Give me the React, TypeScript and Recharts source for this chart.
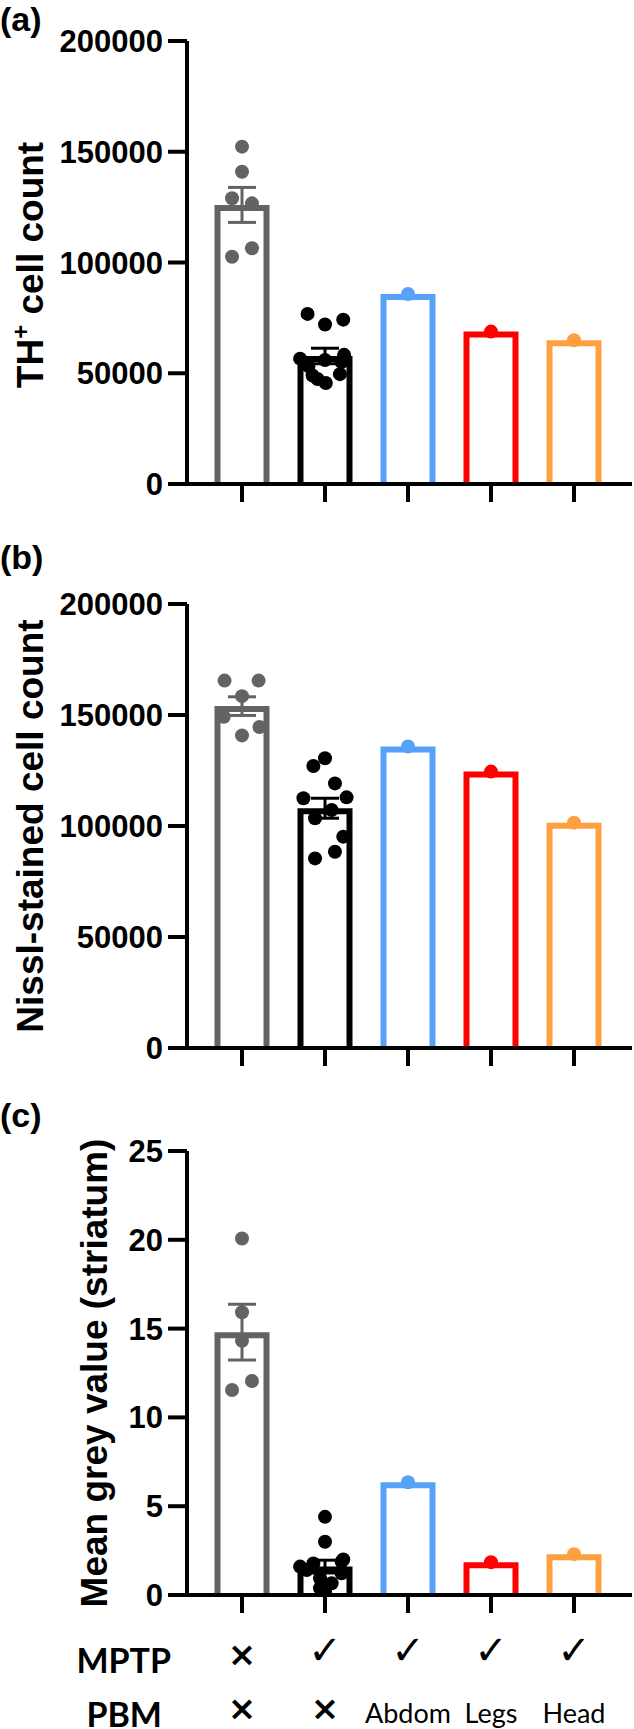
import React from "react";
import { ComposedChart, Bar, Scatter, ErrorBar, XAxis, YAxis } from "recharts";

const groups = ["Control", "MPTP", "MPTP+Abdom", "MPTP+Legs", "MPTP+Head"];
const mptpRow = ["×", "✓", "✓", "✓", "✓"];
const pbmRow = ["×", "×", "Abdom", "Legs", "Head"];
const groupColors = ["#636363", "#000000", "#57A2F9", "#FF0000", "#FFA040"];

// (a) TH+ cell count
const thMean = [126000, 57800, 85800, 68800, 64900];
const thSem = [7900, 3500, 0, 0, 0];
const thDots = [
  [152300, 141000, 129000, 126700, 106400, 102600],
  [76800, 72000, 74200, 58300, 56600, 56000, 55000, 53200, 49600, 49000, 47400, 45600],
  [85800],
  [68800],
  [64900],
];
const thDotX = [
  [0, 0, -0.12, 0.12, 0.12, -0.12],
  [-0.21, 0, 0.22, 0.23, -0.3, 0, 0.2, -0.2, 0.18, -0.15, -0.09, 0.01],
  [0],
  [0],
  [0],
];

// (b) Nissl-stained cell count
const nisslMean = [154000, 108000, 135800, 124500, 101500];
const nisslSem = [4200, 4500, 0, 0, 0];
const nisslDots = [
  [165500, 165500, 158500, 149200, 144600, 140800],
  [130500, 127000, 119200, 112500, 112900, 107200, 103500, 95200, 88400, 85400],
  [135800],
  [124500],
  [101500],
];
const nisslDotX = [
  [-0.21, 0.2, 0, -0.22, 0.21, 0],
  [0, -0.14, 0.12, -0.26, 0.26, 0.08, -0.12, 0.22, 0.12, -0.12],
  [0],
  [0],
  [0],
];

// (c) Mean grey value (striatum)
const greyMean = [14.8, 1.6, 6.35, 1.85, 2.3];
const greySem = [1.57, 0.36, 0, 0, 0];
const greyDots = [
  [20.07, 15.92, 14.32, 12.05, 11.54],
  [4.4, 3.0, 2.0, 1.88, 1.78, 1.6, 1.41, 1.22, 0.94, 0.66, 0.38, 0.2],
  [6.35],
  [1.85],
  [2.3],
];
const greyDotX = [
  [0, 0, 0, 0.12, -0.12],
  [0, 0, 0.22, 0.2, -0.14, -0.3, -0.22, 0.2, -0.06, 0.08, -0.06, 0],
  [0],
  [0],
  [0],
];

const countTicks = [0, 50000, 100000, 150000, 200000];
const greyTicks = [0, 5, 10, 15, 20, 25];

const ARIAL = "'Liberation Sans', Arial, sans-serif";
const axisStyle = { stroke: "#000", strokeWidth: 4 };
const BAR_STROKE = 6;

const OpenBar = (props: any) => {
  const { x, y, width, height, payload } = props;
  const c = groupColors[groups.indexOf(payload.group)];
  const h = BAR_STROKE / 2;
  const l = x + h;
  const r = x + width - h;
  const t = y + h;
  const b = y + height;
  return <path d={`M${l},${b}V${t}H${r}V${b}`} fill="none" stroke={c} strokeWidth={BAR_STROKE} />;
};

const EmptyTick = () => <g />;

const markText = (s: string, x: number, y: number, crossY: number) =>
  s === "✓" ? (
    <text x={x} y={y} textAnchor="middle" fontFamily="'DejaVu Sans'" fontSize={40} fill="#000">
      {s}
    </text>
  ) : s === "×" ? (
    <text x={x} y={crossY} textAnchor="middle" fontFamily="'DejaVu Sans'" fontWeight={700} fontSize={34} fill="#000">
      {s}
    </text>
  ) : (
    <text x={x} y={y} textAnchor="middle" fontFamily="Lato" fontSize={27} fill="#000">
      {s}
    </text>
  );

const RowTick = (props: any) => {
  const { x, y, payload } = props;
  const i = groups.indexOf(payload.value);
  return (
    <g>
      {markText(mptpRow[i], x, y + 49, y + 51)}
      {markText(pbmRow[i], x, y + 108, y + 105)}
    </g>
  );
};

type PanelProps = {
  top: number;
  plotTop: number;
  plotBottom: number;
  axisHeight: number;
  means: number[];
  sems: number[];
  dots: number[][];
  dotX: number[][];
  yMax: number;
  yTicks: number[];
  rows?: boolean;
};

function Panel({ top, plotTop, plotBottom, axisHeight, means, sems, dots, dotX, yMax, yTicks, rows }: PanelProps) {
  const data = groups.map((g, i) => ({ group: g, mean: means[i] }));
  const height = plotBottom - top + axisHeight;
  return (
    <div style={{ position: "absolute", left: 0, top }}>
      <ComposedChart
        width={634}
        height={height}
        data={data}
        margin={{ top: plotTop - top, right: 2, bottom: 0, left: 0 }}
      >
        <XAxis
          xAxisId="cat"
          dataKey="group"
          type="category"
          interval={0}
          padding={{ left: 13.5, right: 16.5 }}
          height={axisHeight}
          tickSize={18}
          tickMargin={2}
          axisLine={axisStyle}
          tickLine={axisStyle}
          tick={rows ? <RowTick /> : <EmptyTick />}
        />
        <XAxis
          xAxisId="num"
          dataKey="x"
          type="number"
          domain={[-0.5, 4.5]}
          allowDataOverflow
          padding={{ left: 13.5, right: 16.5 }}
          hide
        />
        <YAxis
          type="number"
          domain={[0, yMax]}
          ticks={yTicks}
          interval={0}
          allowDataOverflow
          width={187}
          tickSize={19}
          tickMargin={5}
          axisLine={axisStyle}
          tickLine={axisStyle}
          tick={{ fill: "#000", fontSize: 31, fontWeight: 700, fontFamily: ARIAL }}
        />
        <Bar xAxisId="cat" dataKey="mean" barSize={55} shape={OpenBar} isAnimationActive={false} />
        {dots.map((vals, i) => (
          <Scatter
            key={"d" + i}
            xAxisId="num"
            dataKey="y"
            data={vals.map((v, j) => ({ x: i + dotX[i][j], y: v }))}
            shape={(p: any) => <circle cx={p.cx} cy={p.cy} r={7} fill={groupColors[i]} />}
            isAnimationActive={false}
          />
        ))}
        {sems.map((s, i) =>
          s > 0 ? (
            <Scatter
              key={"e" + i}
              xAxisId="num"
              dataKey="y"
              data={[{ x: i, y: means[i], sem: s }]}
              shape={() => <g />}
              isAnimationActive={false}
            >
              <ErrorBar
                dataKey="sem"
                direction="y"
                width={14}
                stroke={groupColors[i]}
                strokeWidth={3}
                isAnimationActive={false}
              />
            </Scatter>
          ) : null
        )}
      </ComposedChart>
    </div>
  );
}

const titleStyle = { fontFamily: ARIAL, fontWeight: 700, fontSize: 37, fill: "#000" };

export default function App() {
  return (
    <div style={{ position: "absolute", left: 0, top: 0, width: 634, height: 1729, background: "#fff" }}>
      <Panel
        top={0}
        plotTop={41}
        plotBottom={484}
        axisHeight={30}
        means={thMean}
        sems={thSem}
        dots={thDots}
        dotX={thDotX}
        yMax={200000}
        yTicks={countTicks}
      />
      <Panel
        top={560}
        plotTop={604}
        plotBottom={1048}
        axisHeight={30}
        means={nisslMean}
        sems={nisslSem}
        dots={nisslDots}
        dotX={nisslDotX}
        yMax={200000}
        yTicks={countTicks}
      />
      <Panel
        top={1100}
        plotTop={1151}
        plotBottom={1595}
        axisHeight={134}
        means={greyMean}
        sems={greySem}
        dots={greyDots}
        dotX={greyDotX}
        yMax={25}
        yTicks={greyTicks}
        rows
      />
      <svg
        width={634}
        height={1729}
        style={{ position: "absolute", left: 0, top: 0, pointerEvents: "none" }}
      >
        <g fontFamily={ARIAL} fontWeight={700} fontSize={34} fill="#000">
          <text x={0} y={31}>(a)</text>
          <text x={0} y={569}>(b)</text>
          <text x={0} y={1127}>(c)</text>
        </g>
        <text transform="translate(43,265) rotate(-90)" textAnchor="middle" {...titleStyle}>
          TH
          <tspan dy={-14} fontSize={24}>+</tspan>
          <tspan dy={14}> cell count</tspan>
        </text>
        <text transform="translate(43,826) rotate(-90)" textAnchor="middle" {...titleStyle}>
          Nissl-stained cell count
        </text>
        <text transform="translate(107,1373) rotate(-90)" textAnchor="middle" {...titleStyle}>
          Mean grey value (striatum)
        </text>
        <g fontFamily="Lato" fontWeight={700} fontSize={34} fill="#000" textAnchor="end">
          <text x={171} y={1673}>MPTP</text>
          <text x={162} y={1727}>PBM</text>
        </g>
      </svg>
    </div>
  );
}
